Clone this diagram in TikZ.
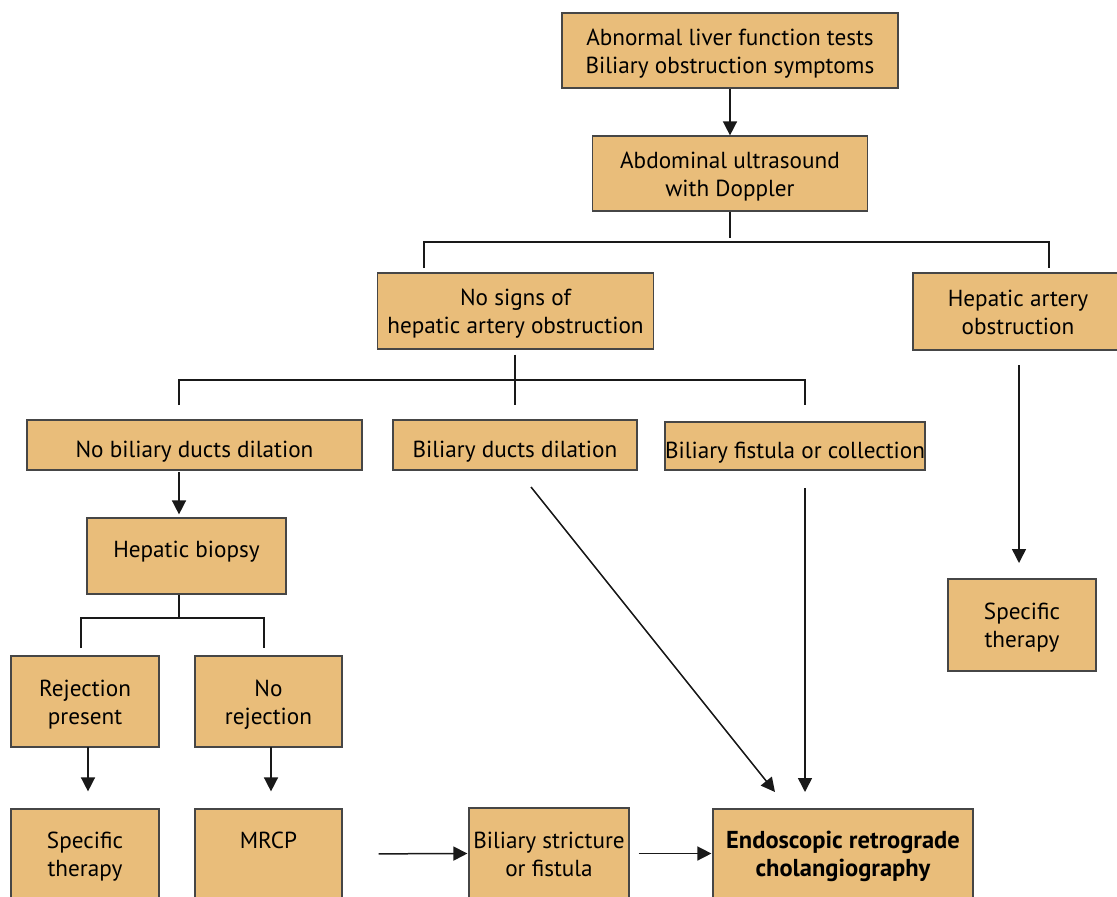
\documentclass[tikz,border=0pt]{standalone}
\usepackage{fontspec}
\setmainfont{PT Sans}
\usetikzlibrary{arrows.meta,calc}
\definecolor{boxfill}{RGB}{233,189,122}
\definecolor{boxline}{RGB}{70,70,70}
\definecolor{lnc}{RGB}{25,25,25}
\newcommand\twolines[2]{\begin{tabular}{@{}c@{}}\rule{0pt}{26pt}#1\\#2\end{tabular}}
\tikzset{
  box/.style={draw=boxline, line width=1.2pt, fill=boxfill, rectangle, align=center,
    inner sep=0pt, font=\fontsize{23.2}{28}\selectfont},
  oneline/.style={execute at begin node={\rule{0pt}{29pt}}},
  arr/.style={draw=lnc, line width=1.5pt, -{Triangle[width=14pt,length=14pt]}},
  ln/.style={draw=lnc, line width=1.5pt},
}
\begin{document}
\begin{tikzpicture}[x=1pt,y=-1pt]
\clip (0,0) rectangle (1117,897);
\fill[white] (0,0) rectangle (1117,897);

% boxes
\node[box, minimum width=336pt, minimum height=75pt] (top) at (730,50.5)
  {\twolines{Abnormal liver function tests}{Biliary obstruction symptoms}};
\node[box, minimum width=275pt, minimum height=75pt] (us) at (730,173.5)
  {\twolines{Abdominal ultrasound}{with Doppler}};
\node[box, minimum width=276pt, minimum height=76pt] (nosigns) at (515.5,311)
  {\twolines{No signs of}{hepatic artery obstruction}};
\node[box, minimum width=210pt, minimum height=77pt] (hao) at (1018,311.5)
  {\twolines{Hepatic artery}{obstruction}};
\node[box, oneline, minimum width=335pt, minimum height=50pt] (nbdd) at (194.5,445)
  {No biliary ducts dilation};
\node[box, oneline, minimum width=244pt, minimum height=50pt] (bdd) at (515,445)
  {Biliary ducts dilation};
\node[box, oneline, minimum width=260pt, minimum height=48pt] (bfc) at (795,446)
  {Biliary fistula or collection};
\node[box, minimum width=199pt, minimum height=76pt,
      execute at begin node={\rule[-14pt]{0pt}{14pt}}] (biopsy) at (186.5,556)
  {Hepatic biopsy};
\node[box, minimum width=148pt, minimum height=91pt] (rej) at (85,701.5)
  {\twolines{Rejection}{present}};
\node[box, minimum width=147pt, minimum height=91pt] (norej) at (268.5,701.5)
  {\twolines{No}{rejection}};
\node[box, minimum width=148pt, minimum height=92pt] (spec2) at (1022,625)
  {\twolines{Specific}{therapy}};
\node[box, minimum width=148pt, minimum height=90pt] (spec1) at (85,854)
  {\twolines{Specific}{therapy}};
\node[box, minimum width=147pt, minimum height=90pt] (mrcp) at (268.5,854)
  {\twolines{MRCP}{\phantom{Mg}}};
\node[box, minimum width=160pt, minimum height=91pt] (strict) at (549,853.5)
  {\twolines{Biliary stricture}{or fistula}};
\node[box, minimum width=260pt, minimum height=90pt, font=\fontsize{24.5}{28}\selectfont\bfseries] (erc) at (843,854)
  {\twolines{Endoscopic retrograde}{cholangiography}};

% bracket 1
\coordinate (b1) at (730,238);
\coordinate (b1l) at (424,268);
\coordinate (b1r) at (1049,268);
\draw[ln] (us.south) -- (b1);
\draw[ln] (b1l) -- (424,242) -- (1049,242) -- (b1r);

% bracket 2
\coordinate (b2) at (515,405);
\coordinate (b2l) at (179,405);
\coordinate (b2r) at (805,405);
\draw[ln] ($(nosigns.south -| b2)+(0,5)$) -- (b2);
\draw[ln] (b2l) -- (179,380) -- (805,380) -- (b2r);

% bracket 3
\coordinate (b3) at (179,619);
\coordinate (b3l) at (81,648);
\coordinate (b3r) at (264,648);
\draw[ln] (biopsy.south -| b3) -- (b3);
\draw[ln] (b3l) -- (81,618) -- (264,618) -- (b3r);

% arrows
\draw[arr] (top.south) -- (us.north);
\coordinate (a1) at (179,472);
\draw[arr, shorten >=3pt] (a1) -- (biopsy.north -| a1);
\coordinate (a2) at (88,747);
\draw[arr, shorten >=17pt] (a2) -- (spec1.north -| a2);
\coordinate (a3) at (271,747);
\draw[arr, shorten >=17pt] (a3) -- (mrcp.north -| a3);
\draw[arr, shorten <=36pt, shorten >=1pt] (mrcp.east) -- (strict.west);
\draw[arr, shorten <=9pt, shorten >=1pt] (strict.east) -- (strict.east -| erc.west);
\coordinate (d1) at (531,487);
\coordinate (d2) at (775,792);
\draw[arr] (d1) -- (d2);
\coordinate (v1) at (805,488);
\coordinate (v2) at (805,792);
\draw[arr] (v1) -- (v2);
\coordinate (h1) at (1019,365);
\coordinate (h2) at (1019,563);
\draw[arr] (h1) -- (h2);
\end{tikzpicture}
\end{document}
